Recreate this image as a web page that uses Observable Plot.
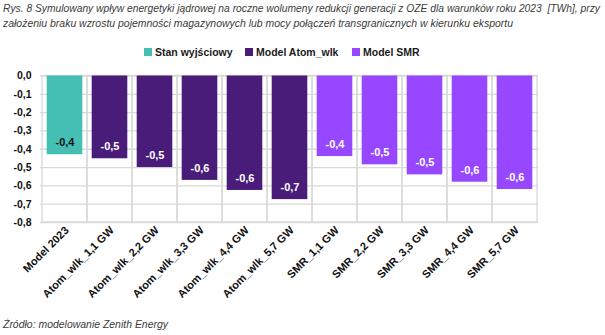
<!DOCTYPE html>
<html><head><meta charset="utf-8">
<script src="https://cdn.jsdelivr.net/npm/d3@7"></script>
<script src="https://cdn.jsdelivr.net/npm/@observablehq/plot@0.6"></script>
<style>
body{margin:0;background:#fff;width:605px;height:335px;overflow:hidden;font-family:"Liberation Sans",Arial,sans-serif;}
.tline{position:absolute;left:3px;font-family:"Liberation Sans",sans-serif;font-style:italic;font-size:11.5px;line-height:14px;color:#3b3b3b;white-space:nowrap;transform-origin:0 0;}
#legend{position:absolute;left:0;top:46px;width:605px;height:14px;font-weight:bold;font-size:10.5px;color:#1a1a1a}
#legend span.item{position:absolute;top:0;display:flex;align-items:center;gap:3px;white-space:nowrap}
#legend i{display:inline-block;width:8px;height:8px}
#chart{position:absolute;left:0;top:62px}
#source{position:absolute;left:3px;top:318px;font-family:"Liberation Sans",sans-serif;font-style:italic;font-size:11.5px;color:#3b3b3b;transform-origin:0 0}
</style></head>
<body>
<div class="tline" id="t1" style="top:1px">Rys. 8 Symulowany wpływ energetyki jądrowej na roczne wolumeny redukcji generacji z OZE dla warunków roku 2023&nbsp; [TWh], przy</div>
<div class="tline" id="t2" style="top:16px">założeniu braku wzrostu pojemności magazynowych lub mocy połączeń transgranicznych w kierunku eksportu</div>
<div id="legend"></div>
<div id="chart"></div>
<div id="source">Źródło: modelowanie Zenith Energy</div>
<script>
const categories = ["Model 2023","Atom_wlk_1,1 GW","Atom_wlk_2,2 GW","Atom_wlk_3,3 GW","Atom_wlk_4,4 GW","Atom_wlk_5,7 GW","SMR_1,1 GW","SMR_2,2 GW","SMR_3,3 GW","SMR_4,4 GW","SMR_5,7 GW"];
const values = [-0.43,-0.452,-0.50,-0.57,-0.625,-0.675,-0.44,-0.485,-0.54,-0.58,-0.62];
const groups = ["Stan wyjściowy","Model Atom_wlk","Model Atom_wlk","Model Atom_wlk","Model Atom_wlk","Model Atom_wlk","Model SMR","Model SMR","Model SMR","Model SMR","Model SMR"];
const seriesNames = ["Stan wyjściowy","Model Atom_wlk","Model SMR"];
const seriesColors = ["#45BFB4","#4A1C79","#9747FF"];
const labelColors = {"Stan wyjściowy":"#111","Model Atom_wlk":"#fff","Model SMR":"#fff"};
const yTicks = [0,-0.1,-0.2,-0.3,-0.4,-0.5,-0.6,-0.7,-0.8];

const data = categories.map((c,i)=>({cat:c,value:values[i],group:groups[i]}));
const fmt = d => (Math.abs(d)<1e-9 ? 0 : d).toFixed(1).replace(".",",");

// fit title lines to the reference's line widths
[["t1",597],["t2",510],["source",165]].forEach(([id,w])=>{
  const el=document.getElementById(id);
  const cur=el.getBoundingClientRect().width;
  el.style.transform=`scaleX(${w/cur})`;
});

const legend = document.getElementById("legend");
const legendX = [144,245,352];
seriesNames.forEach((s,i)=>{
  const el=document.createElement("span");el.className="item";
  el.style.left=legendX[i]+"px";
  el.innerHTML=`<i style="background:${seriesColors[i]}"></i>${s}`;
  legend.appendChild(el);
});

const chart = Plot.plot({
  width:605, height:240,
  marginTop:13.5, marginLeft:40, marginRight:67, marginBottom:80,
  style:{fontFamily:"'Liberation Sans',Arial,sans-serif",fontSize:"10.5px",fontWeight:"bold",color:"#111"},
  x:{domain:categories,padding:0,label:null,tickSize:0,tickRotate:-45,tickPadding:6},
  y:{domain:[-0.8,0],ticks:yTicks,tickFormat:fmt,label:null,tickSize:0,tickPadding:9},
  color:{domain:seriesNames,range:seriesColors},
  marks:[
    Plot.gridY(yTicks,{stroke:"#d9d9d9",strokeOpacity:1,strokeWidth:1.3}),
    Plot.barY(categories,{x:d=>d,y1:-0.8,y2:0,fill:"none",stroke:"#d9d9d9",strokeWidth:1.3}),
    Plot.barY(data,{x:"cat",y:"value",fill:"group",insetLeft:4.7,insetRight:4.7}),
    Plot.text(data,{x:"cat",y:"value",text:d=>fmt(Math.round(d.value*10)/10),dy:-12,fill:d=>labelColors[d.group],fontSize:11,fontWeight:"bold"}),
    Plot.axisX({tickSize:0,tickRotate:-45,tickPadding:6,fontSize:11,dx:2,label:null})
  ]
});
document.getElementById("chart").appendChild(chart);
</script>
</body></html>
